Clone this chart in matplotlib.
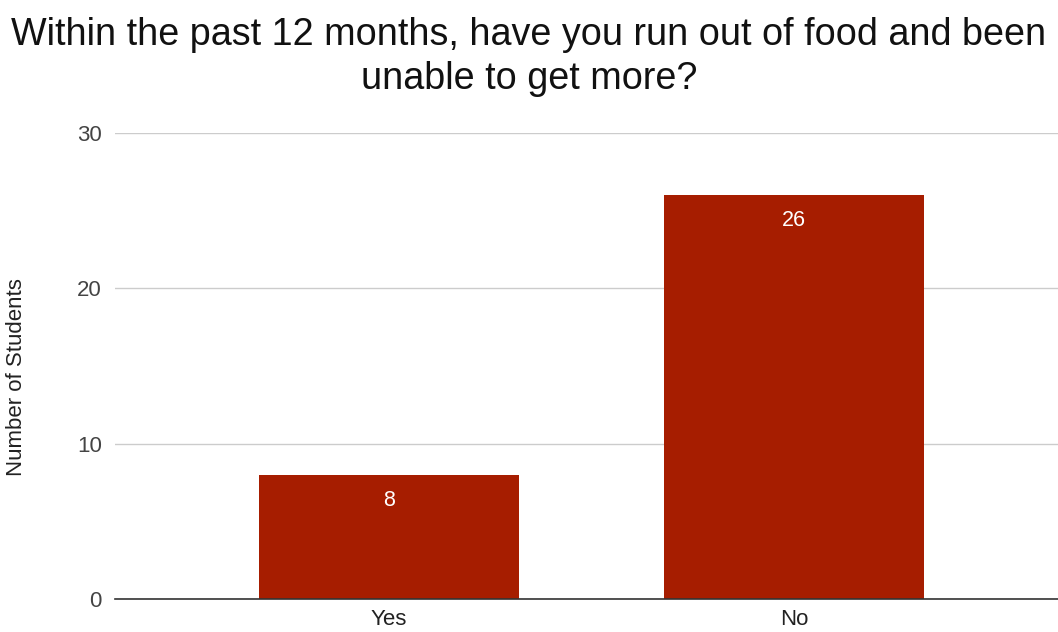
import matplotlib
matplotlib.use("Agg")
import matplotlib.pyplot as plt

categories = ["Yes", "No"]
values = [8, 26]
yticks = [0, 10, 20, 30]
title = "Within the past 12 months, have you run out of food and been\nunable to get more?"
ylabel = "Number of Students"

plt.rcParams['font.family'] = ['Liberation Sans', 'DejaVu Sans']

fig = plt.figure(figsize=(10.58, 6.32), dpi=100)
ax = fig.add_axes([0.1087, 0.0522, 0.8913, 0.7374])

x = list(range(len(categories)))
ax.bar(x, values, width=0.642, color="#a61d00", zorder=3)
for xi, v in zip(x, values):
    ax.annotate(str(v), xy=(xi, v), xytext=(0, -11), textcoords="offset points",
                ha="center", va="top", color="white", fontsize=15.5, zorder=4)

ax.set_xlim(-0.677, 1.652)
ax.set_ylim(0, 30)
ax.set_yticks(yticks)
ax.set_xticks(x)
ax.set_xticklabels(categories, fontsize=16, color="#222222")
ax.tick_params(axis="y", length=0, labelsize=16, labelcolor="#444444", pad=9.4)
ax.tick_params(axis="x", length=0, pad=7)
ax.grid(axis="y", color="#cccccc", linewidth=1, zorder=0)
for s in ["top", "right", "left"]:
    ax.spines[s].set_visible(False)
ax.spines["bottom"].set_color("#333333")
ax.spines["bottom"].set_linewidth(1.2)
ax.spines["bottom"].set_zorder(5)

fig.text(17 / 1058, 1 - 377 / 632, ylabel, rotation=90, ha="center", va="center",
         fontsize=16, color="#222222")

fig.text(0.5, 0.973, title, ha="center", va="top", fontsize=27.2, color="#111111", linespacing=1.28)

fig.savefig("out.png", dpi=100)
